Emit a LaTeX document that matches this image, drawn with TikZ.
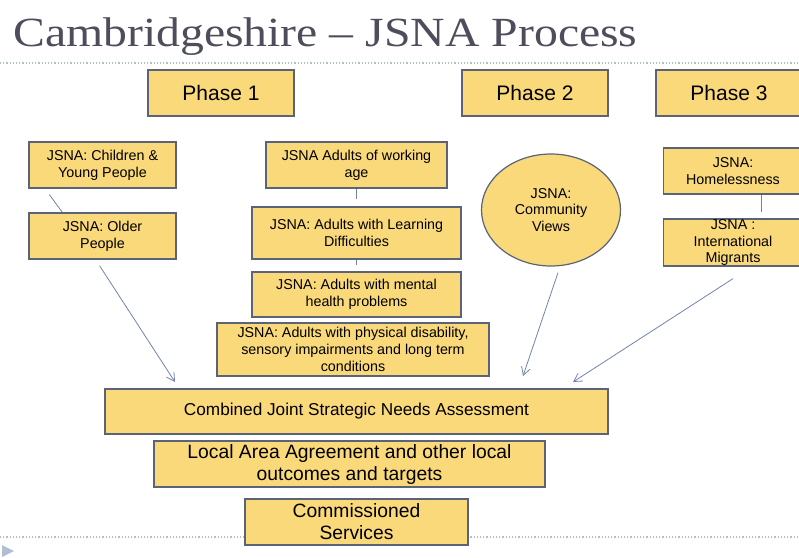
\documentclass[tikz,border=0pt]{standalone}
\usepackage{fontspec}
\setmainfont{Liberation Sans}
\newfontfamily\titlefont{Liberation Serif}[FakeStretch=1.15]
\usetikzlibrary{arrows.meta,shapes.geometric}
\definecolor{boxfill}{HTML}{FAD97A}
\definecolor{boxline}{HTML}{5A6378}
\definecolor{arrowcol}{HTML}{7282B0}
\definecolor{rulecol}{HTML}{AFC0D2}
\definecolor{titlecol}{HTML}{4D4D5C}
\begin{document}
\begin{tikzpicture}[x=1pt,y=-1pt,
    phasebox/.style={draw=boxline,fill=boxfill,line width=1.2pt,inner sep=0,
        minimum width=146pt,minimum height=46pt,font=\fontsize{21}{24}\selectfont},
    jsnabox/.style={draw=boxline,fill=boxfill,line width=1.2pt,inner sep=0,align=center,
        minimum height=46pt,font=\fontsize{14.3}{16.8}\selectfont},
    mainbox/.style={draw=boxline,fill=boxfill,line width=1.2pt,inner sep=0,align=center,
        minimum height=46pt,font=\fontsize{19.3}{22}\selectfont},
    link/.style={draw=arrowcol,line width=0.8pt},
    flow/.style={draw=arrowcol,line width=0.8pt,-{Straight Barb[length=8pt,width=9pt]}}]
    \useasboundingbox (0,0) rectangle (799,557);
    \clip (0,0) rectangle (799,557);
    % title and rules
    \node[anchor=base west,inner sep=0,text=titlecol,font=\titlefont\fontsize{41.5}{48}\selectfont] (title) at (13,46) {Cambridgeshire – JSNA Process};
    \draw[rulecol,line width=1.2pt,dash pattern=on 1.2pt off 2pt] (0,63) -- (799,63);
    \draw[rulecol,line width=1.2pt,dash pattern=on 1.2pt off 2pt] (0,537) -- (799,537);
    \fill[rulecol] (2,545) -- (14,551) -- (2,557) -- cycle;
    % phases
    \node[phasebox] (phase1) at (221,93) {Phase 1};
    \node[phasebox] (phase2) at (535,93) {Phase 2};
    \node[phasebox] (phase3) at (729,93) {Phase 3};
    % phase 1 assessments
    \node[jsnabox,minimum width=147pt] (children) at (102.5,165) {JSNA: Children \&\\Young People};
    \node[jsnabox,minimum width=147pt] (older) at (102.5,236) {JSNA: Older\\People};
    \node[jsnabox,minimum width=181pt] (working) at (356.5,165) {JSNA Adults of working\\age};
    \node[jsnabox,minimum width=209pt,minimum height=52pt] (learning) at (356.5,233) {JSNA: Adults with Learning\\Difficulties};
    \node[jsnabox,minimum width=209pt,minimum height=45pt] (mental) at (356.5,294.5) {JSNA: Adults with mental\\health problems};
    \node[jsnabox,minimum width=272pt,minimum height=53pt] (physical) at (353,349.5) {JSNA: Adults with physical disability,\\sensory impairments and long term\\conditions};
    % phase 2 and 3
    \node[draw=boxline,fill=boxfill,line width=1.2pt,ellipse,inner sep=0,minimum width=139pt,minimum height=112pt,align=center,font=\fontsize{14.3}{16.8}\selectfont] (community) at (551,210) {JSNA:\\Community\\Views};
    \node[jsnabox,minimum width=139pt] (homeless) at (733,171) {JSNA:\\Homelessness};
    \node[jsnabox,minimum width=139pt,minimum height=47pt] (migrants) at (733,242.5) {JSNA :\\International\\Migrants};
    % outputs
    \node[mainbox,minimum width=503pt,minimum height=45pt,font=\fontsize{17.2}{20}\selectfont] (combined) at (356.5,411.5) {Combined Joint Strategic Needs Assessment};
    \node[mainbox,minimum width=391pt] (local) at (349.5,464) {\strut Local Area Agreement and other local\\outcomes and targets};
    \node[mainbox,minimum width=223pt] (services) at (356.5,522) {Commissioned\\Services};
    % connectors
    \coordinate (intoA) at (175,382);
    \coordinate (intoB) at (523,376);
    \coordinate (intoC) at (573,382);
    \draw[link] ([xshift=21pt,yshift=-6pt]children.south west) -- ([xshift=34pt]older.north west);
    \draw[link,shorten >=7pt] (working.south) -- (learning.north);
    \draw[link,shorten >=6pt] (learning.south) -- (mental.north);
    \draw[link,shorten >=6pt] ([xshift=28pt]homeless.south) -- ([xshift=28pt]migrants.north);
    \draw[flow] ([xshift=-3pt,yshift=-6pt]older.south) -- (intoA);
    \draw[flow] ([xshift=7pt,yshift=-6pt]community.south) -- (intoB);
    \draw[flow] ([xshift=0pt,yshift=-12pt]migrants.south) -- (intoC);
\end{tikzpicture}
\end{document}
